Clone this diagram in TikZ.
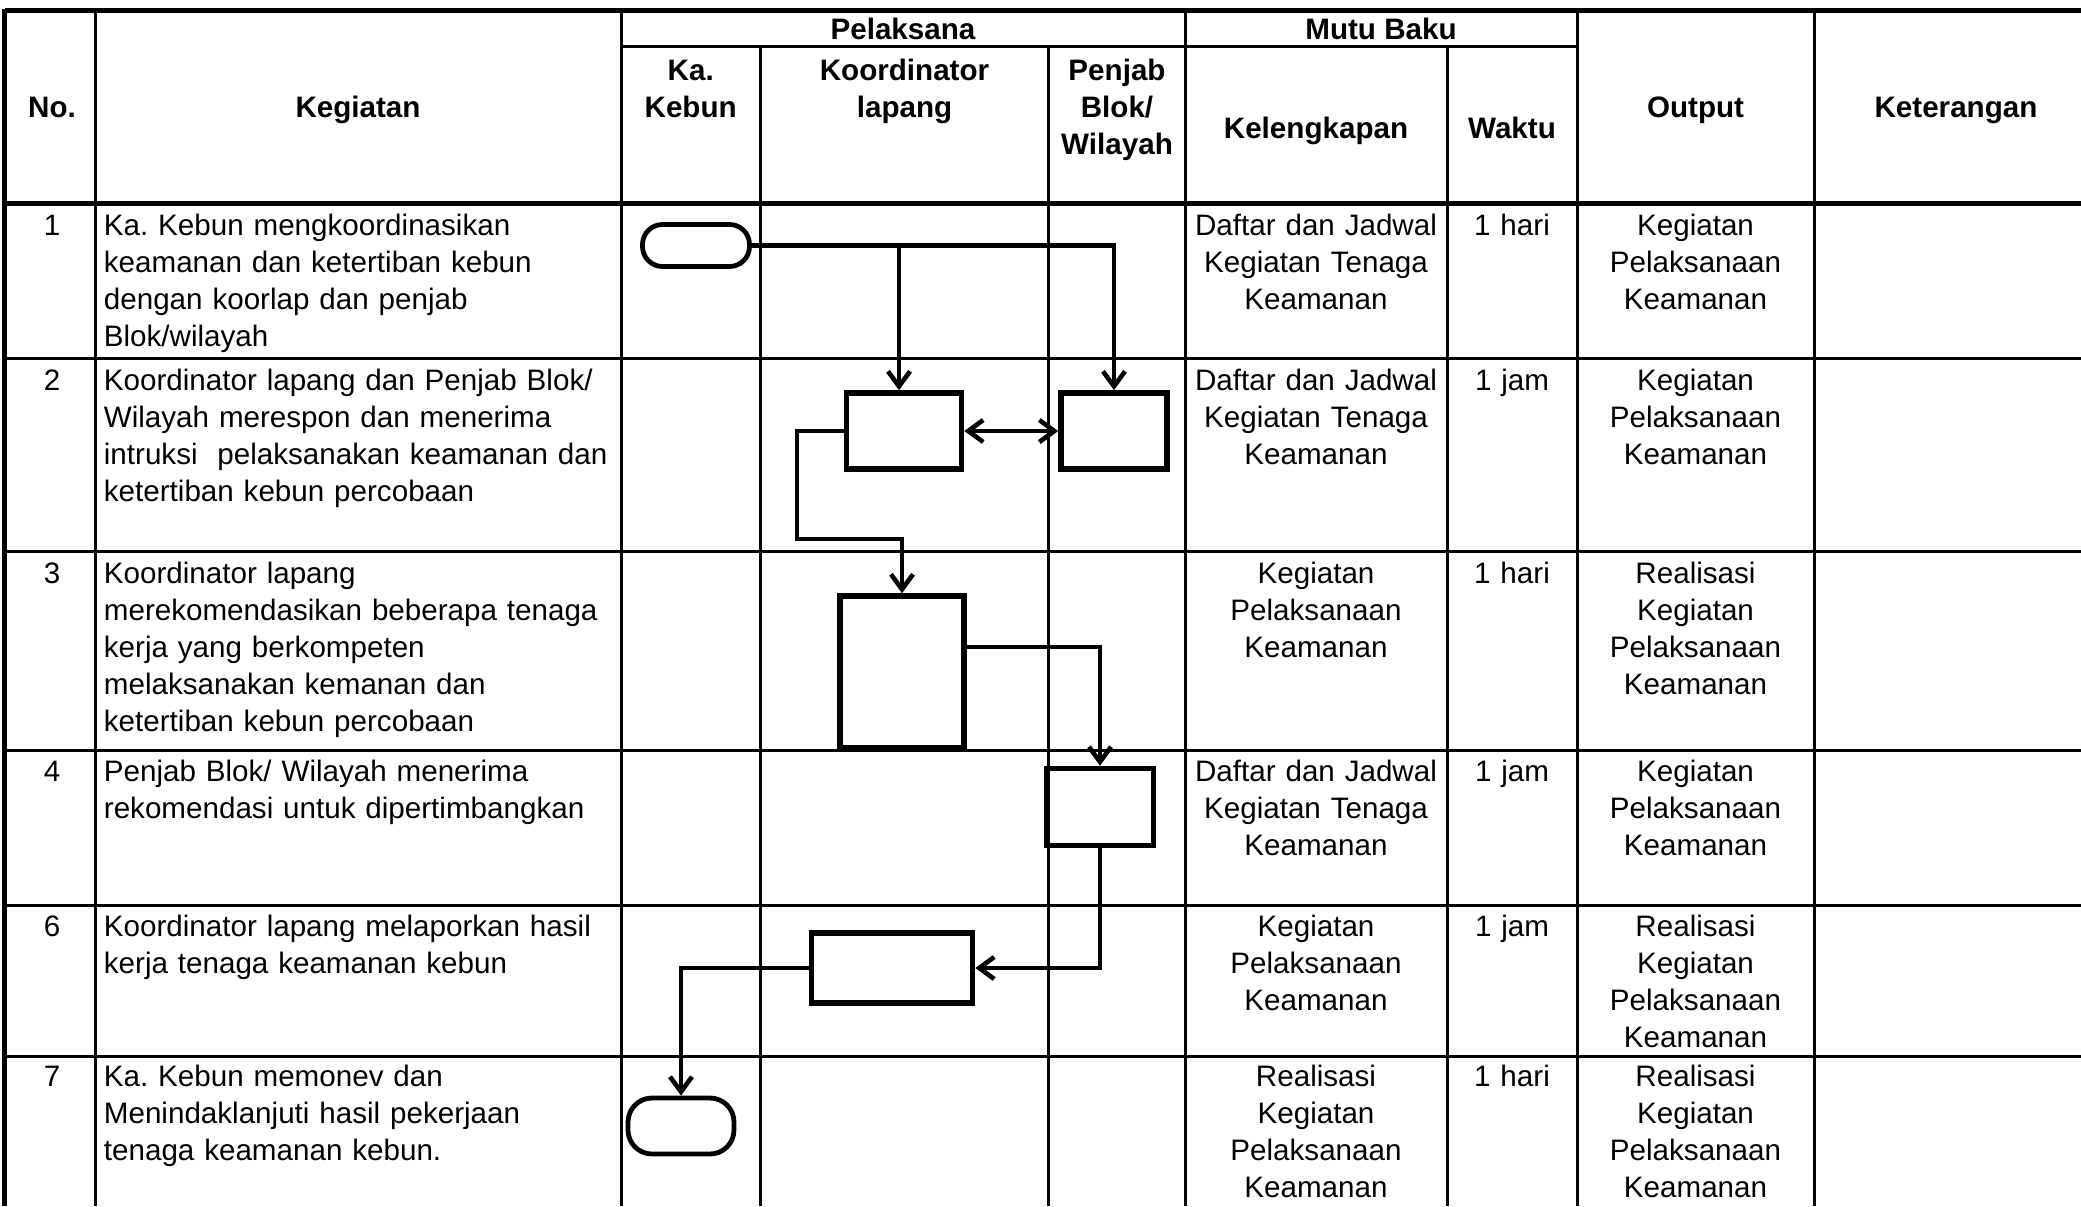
\documentclass[tikz,border=0pt]{standalone}
\usepackage{fontspec}
\setmainfont{Liberation Sans}
\frenchspacing
\usetikzlibrary{arrows.meta,calc,positioning}
\tikzset{
    block/.style = {draw, rectangle, line width=2.8pt, inner sep=0pt},
    term/.style = {draw, rectangle, rounded corners=10pt, line width=2.4pt, inner sep=0pt},
    head/.style = {font=\fontsize{14.8}{18.6}\selectfont\bfseries, inner sep=0pt, anchor=base},
    cell/.style = {font=\fontsize{14.8}{18.6}\selectfont, inner sep=0pt, anchor=base, align=center, text width=125pt},
    desc/.style = {font=\fontsize{14.8}{18.6}\selectfont, inner sep=0pt, anchor=base west, align=left, text width=262pt},
    rule/.style = {line width=1.5pt},
    border/.style = {line width=2.5pt},
    flow/.style = {line width=2.3pt, ->},
}

\begin{document}
\begin{tikzpicture}[x=0.5pt, y=-0.5pt, >={Straight Barb[length=7.5pt,width=11pt]}]
	\useasboundingbox (0,0) rectangle (2081,1206);

	% table rules
	\draw [border] (4.5,10.6) -- (2081,10.6);
	\draw [border] (4.5,203) -- (2081,203);
	\draw [border] (4.5,9.4) -- (4.5,1206);
	\draw [rule] (621,46.5) -- (1577,46.5);
	\foreach \y in {358,551,750,905,1056}
		\draw [rule] (4.5,\y) -- (2081,\y);
	\foreach \x in {95.6,621,1185,1577,1814}
		\draw [rule] (\x,10.6) -- (\x,1206);
	\foreach \x in {760.5,1048.5,1447}
		\draw [rule] (\x,46.5) -- (\x,1206);

	% header
	\node [head] (hNo) at (52,117) {No.};
	\node [head] (hKeg) at (358,117) {Kegiatan};
	\node [head] (hPel) at (903,39) {Pelaksana};
	\node [head] (hMutu) at (1381,39) {Mutu Baku};
	\node [head, align=center, text width=60pt] (hKa) at (690.7,80) {Ka.\\Kebun};
	\node [head, align=center, text width=120pt] (hKoor) at (904.5,80) {Koordinator\\lapang};
	\node [head, align=center, text width=60pt] (hPenjab) at (1117,80) {Penjab\\Blok/\\Wilayah};
	\node [head] (hKel) at (1316,138) {Kelengkapan};
	\node [head] (hWaktu) at (1512,138) {Waktu};
	\node [head] (hOut) at (1695.5,117) {Output};
	\node [head] (hKet) at (1956,117) {Keterangan};

	% row 1
	\node [cell, text width=30pt] (no1) at (52,235) {1};
	\node [desc] (keg1) at (103.5,235) {Ka. Kebun mengkoordinasikan\\keamanan dan ketertiban kebun\\dengan koorlap dan penjab\\Blok/wilayah};
	\node [cell] (kel1) at (1316,235) {Daftar dan Jadwal\\Kegiatan Tenaga\\Keamanan};
	\node [cell] (wkt1) at (1512,235) {1 hari};
	\node [cell] (out1) at (1695.5,235) {Kegiatan\\Pelaksanaan\\Keamanan};

	% row 2
	\node [cell, text width=30pt] (no2) at (52,390) {2};
	\node [desc] (keg2) at (103.5,390) {Koordinator lapang dan Penjab Blok/\\Wilayah merespon dan menerima\\intruksi\ \ pelaksanakan keamanan dan\\ketertiban kebun percobaan};
	\node [cell] (kel2) at (1316,390) {Daftar dan Jadwal\\Kegiatan Tenaga\\Keamanan};
	\node [cell] (wkt2) at (1512,390) {1 jam};
	\node [cell] (out2) at (1695.5,390) {Kegiatan\\Pelaksanaan\\Keamanan};

	% row 3
	\node [cell, text width=30pt] (no3) at (52,583) {3};
	\node [desc] (keg3) at (103.5,583) {Koordinator lapang\\merekomendasikan beberapa tenaga\\kerja yang berkompeten\\melaksanakan kemanan dan\\ketertiban kebun percobaan};
	\node [cell] (kel3) at (1316,583) {Kegiatan\\Pelaksanaan\\Keamanan};
	\node [cell] (wkt3) at (1512,583) {1 hari};
	\node [cell] (out3) at (1695.5,583) {Realisasi\\Kegiatan\\Pelaksanaan\\Keamanan};

	% row 4
	\node [cell, text width=30pt] (no4) at (52,781) {4};
	\node [desc] (keg4) at (103.5,781) {Penjab Blok/ Wilayah menerima\\rekomendasi untuk dipertimbangkan};
	\node [cell] (kel4) at (1316,781) {Daftar dan Jadwal\\Kegiatan Tenaga\\Keamanan};
	\node [cell] (wkt4) at (1512,781) {1 jam};
	\node [cell] (out4) at (1695.5,781) {Kegiatan\\Pelaksanaan\\Keamanan};

	% row 6
	\node [cell, text width=30pt] (no6) at (52,936) {6};
	\node [desc] (keg6) at (103.5,936) {Koordinator lapang melaporkan hasil\\kerja tenaga keamanan kebun};
	\node [cell] (kel6) at (1316,936) {Kegiatan\\Pelaksanaan\\Keamanan};
	\node [cell] (wkt6) at (1512,936) {1 jam};
	\node [cell] (out6) at (1695.5,936) {Realisasi\\Kegiatan\\Pelaksanaan\\Keamanan};

	% row 7
	\node [cell, text width=30pt] (no7) at (52,1086) {7};
	\node [desc] (keg7) at (103.5,1086) {Ka. Kebun memonev dan\\Menindaklanjuti hasil pekerjaan\\tenaga keamanan kebun.};
	\node [cell] (kel7) at (1316,1086) {Realisasi\\Kegiatan\\Pelaksanaan\\Keamanan};
	\node [cell] (wkt7) at (1512,1086) {1 hari};
	\node [cell] (out7) at (1695.5,1086) {Realisasi\\Kegiatan\\Pelaksanaan\\Keamanan};

	% flow shapes
	\node [term, minimum width=53.5pt, minimum height=21pt] (start) at (696,245.5) {};
	\node [block, minimum width=57.5pt, minimum height=38pt] (boxA) at (904,431) {};
	\node [block, minimum width=53pt, minimum height=38pt] (boxB) at (1114,431) {};
	\node [block, minimum width=62pt, minimum height=76pt] (boxC) at (902,672) {};
	\node [block, minimum width=53.5pt, minimum height=38.5pt] (boxD) at (1100,807) {};
	\node [block, minimum width=80.5pt, minimum height=35pt] (boxE) at (892,968) {};
	\node [term, rounded corners=12pt, minimum width=53pt, minimum height=28pt] (stop) at (681,1126) {};

	% bends
	\coordinate (inA) at ([xshift=-2.5pt]boxA.north);
	\coordinate (jogAC) at (797,539);
	\coordinate (cOut) at (964,647);

	%%lines
	\draw [flow] (start.east) -| (boxB.north);
	\draw [flow] (inA |- start.east) -- (inA);
	\draw [flow, <->] (boxA.east) -- (boxB.west);
	\draw [flow] (boxA.west) -| (jogAC) -| (boxC.north);
	\draw [flow] (cOut) -| (boxD.north);
	\draw [flow] (boxD.south) |- (boxE.east);
	\draw [flow] (boxE.west) -| (stop.north);
\end{tikzpicture}
\end{document}
